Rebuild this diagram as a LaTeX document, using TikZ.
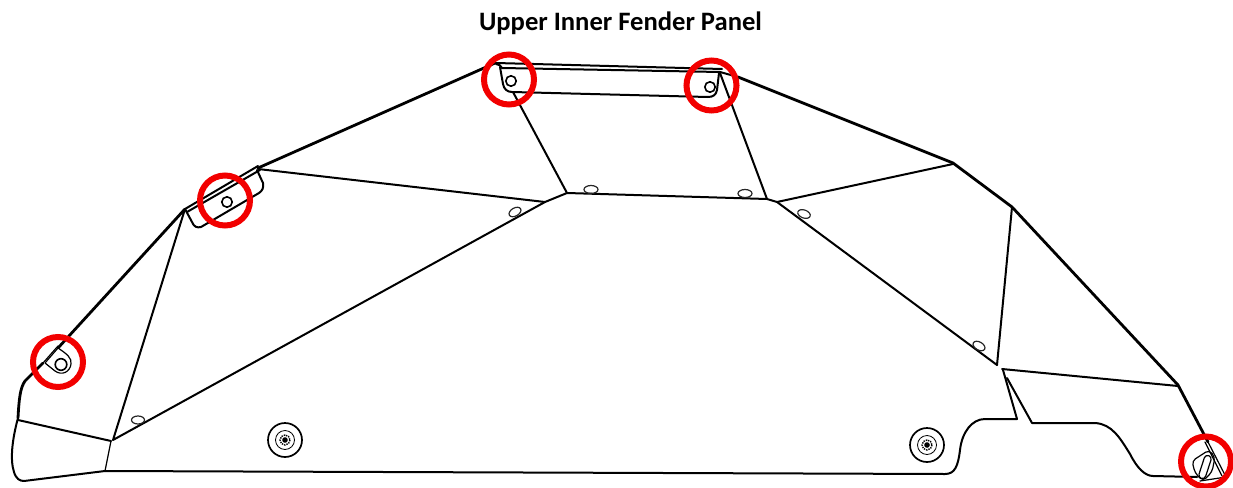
\documentclass[tikz,border=0pt]{standalone}
\usepackage{fontspec}
\setmainfont{Carlito}
\tikzset{
  thick edge/.style={line width=2.8pt,line join=round,line cap=round},
  body/.style={line width=2pt,line join=round,line cap=round},
  thin edge/.style={line width=1.2pt,line join=round,line cap=round},
  red ring/.style={draw=red!95!black,line width=6pt},
  hole/.style={line width=1.6pt},
  dimple/.style={line width=1.2pt,gray!30!black},
}
\begin{document}
\begin{tikzpicture}[x=1pt,y=-1pt]
\useasboundingbox (0,0) rectangle (1233,487);
\node (title) at (620.5,23) {\fontsize{26.6}{30}\selectfont\bfseries Upper Inner Fender Panel};

% heavy upper outline
\draw[thick edge] (18,418) .. controls (19,400) and (20,388) .. (25,381) -- (43,363);
\draw[thick edge] (58,348) -- (185,209);
\draw[thick edge] (258,168) -- (484,68) -- (495,63);
\draw[thick edge] (738,77) -- (953,163) -- (1012,207) -- (1178,385);
\draw[thick edge] (1178,385) -- (1208,442);
% double edges
\draw[body] (185,209) -- (258,166);
\draw[body] (187,212) -- (260,170);
\draw[thin edge] (43,363) -- (58,346);
\draw[body] (496,64) .. controls (499,64) and (501,66) .. (502,68) -- (720,72) -- (738,77);
\draw[body] (496,63) -- (722,69);
\draw[thin edge] (1208,442) -- (1226,477);
\draw[thin edge] (1205,442) -- (1222,476);

% lower-left nose
\draw[body] (18,418) .. controls (12,440) and (10,460) .. (14,472) .. controls (16,479) and (20,481) .. (24,481) -- (105,471);
\draw[body] (18,420) -- (111,441);
\draw[thin edge] (111,441) -- (105,471);
% bottom edge
\draw[body] (105,471) -- (945,474) .. controls (955,474) and (958,466) .. (960,450)
  .. controls (962,432) and (972,419) .. (985,419) -- (1017,419) -- (1003,370);
\draw[body] (1002,369) -- (1178,386);
\draw[body] (1007,378) -- (1032,423) -- (1095,423)
  .. controls (1112,424) and (1120,438) .. (1130,454)
  .. controls (1137,468) and (1145,476) .. (1153,476) -- (1197,477);
\draw[thin edge] (1200,481) -- (1226,477);

% facet lines
\draw[body] (185,209) -- (113,440) -- (545,202) -- (567,193) -- (767,199) -- (777,202) -- (997,365);
\draw[body] (258,169) -- (545,202);
\draw[body] (513,92) -- (567,193);
\draw[body] (720,73) -- (767,199);
\draw[body] (777,202) -- (953,164);
\draw[body] (1012,207) -- (997,365);

% flange tabs
\draw[body] (500,67) -- (503,84) .. controls (504,89) and (507,92) .. (512,92) -- (708,97) .. controls (713,97) and (716,95) .. (717,90) -- (719,73);
\draw[hole] (511,81) circle (5.2);
\draw[hole] (710,87) circle (5.2);
\draw[body] (257,170) -- (263,183) .. controls (264,188) and (262,191) .. (259,193) -- (213,220) -- (201,227) .. controls (197,228) and (194,227) .. (192,222) -- (185,209);
\draw[hole] (227,202) circle (5.2);
\draw[thin edge] (45,363) -- (55,371) .. controls (62,376) and (70,372) .. (71,364) .. controls (72,358) and (67,354) .. (58,348) -- (45,363);
\draw[hole] (61,364.5) circle (5.8);

% slot at lower right
\draw[thin edge,rounded corners=4pt] (1209,450) -- (1215,457) -- (1212,472) -- (1203,481) -- (1195,473) -- (1192,461) -- cycle;
\draw[thin edge,rotate around={-18:(1205,467)},rounded corners=3.5pt] (1201.5,455) rectangle (1208.5,479);

% fasteners
\draw[line width=1.7pt] (285,440) circle (17);
\draw[line width=.8pt] (285,440) circle (9.5);
\draw[line width=1.4pt,densely dotted] (285,440) circle (5);
\fill (285,440) circle (2.8);
\draw[line width=1.7pt] (927,445) circle (17);
\draw[line width=.8pt] (927,445) circle (9.5);
\draw[line width=1.4pt,densely dotted] (927,445) circle (5);
\fill (927,445) circle (2.8);

% dimples
\draw[dimple] (138,420) ellipse (6.5 and 4);
\draw[dimple,rotate around={30:(515,212)}] (515,212) ellipse (6.5 and 4);
\draw[dimple] (591,189.5) ellipse (7 and 4);
\draw[dimple] (745,193.5) ellipse (7 and 4);
\draw[dimple,rotate around={-20:(804,214)}] (804,214) ellipse (6.5 and 4);
\draw[dimple,rotate around={-30:(979,346)}] (979,346) ellipse (6.5 and 4);

% red rings
\draw[red ring] (58,362) circle (25);
\draw[red ring] (225,200.5) circle (25);
\draw[red ring] (509,79.5) circle (25);
\draw[red ring] (711.5,85.5) circle (25);
\draw[red ring] (1206,461.5) circle (25);
\end{tikzpicture}
\end{document}
